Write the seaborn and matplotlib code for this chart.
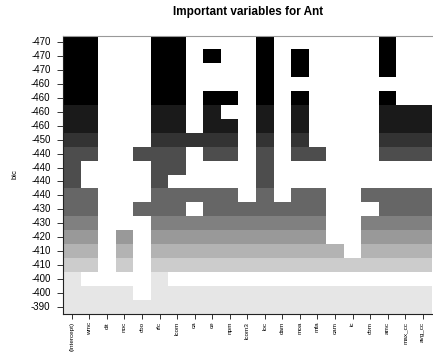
import numpy as np
import pandas as pd
import matplotlib
matplotlib.use("Agg")
import matplotlib.pyplot as plt
import seaborn as sns
from matplotlib.colors import ListedColormap

plt.rcParams['font.family'] = ['Liberation Sans', 'DejaVu Sans']

variables = ["(Intercept)", "wmc", "dit", "noc", "cbo", "rfc", "lcom", "ca", "ce", "npm",
             "lcom3", "loc", "dam", "moa", "mfa", "cam", "ic", "cbm", "amc", "max_cc", "avg_cc"]

# bic of the best model of each size, ordered as drawn (top row = best)
bic = [-472, -469, -467, -464.8, -464.5, -462, -459, -451, -444, -443, -441,
       -438, -434, -428, -420, -412, -406, -398, -396, -392]

# variables in each of those models (intercept is always in)
models = [
    ["wmc", "rfc", "lcom", "loc", "amc"],
    ["wmc", "rfc", "lcom", "ce", "loc", "moa", "amc"],
    ["wmc", "rfc", "lcom", "loc", "moa", "amc"],
    ["wmc", "rfc", "lcom", "loc"],
    ["wmc", "rfc", "lcom", "ce", "npm", "loc", "moa", "amc"],
    ["wmc", "rfc", "lcom", "ce", "loc", "moa", "amc", "max_cc", "avg_cc"],
    ["wmc", "rfc", "lcom", "ce", "npm", "loc", "moa", "amc", "max_cc", "avg_cc"],
    ["wmc", "rfc", "lcom", "ca", "ce", "npm", "loc", "moa", "amc", "max_cc", "avg_cc"],
    ["wmc", "cbo", "rfc", "lcom", "ce", "npm", "loc", "moa", "mfa", "amc", "max_cc", "avg_cc"],
    ["rfc", "lcom", "loc"],
    ["rfc", "loc"],
    ["wmc", "rfc", "lcom", "ca", "ce", "npm", "loc", "moa", "mfa", "cbm", "amc", "max_cc", "avg_cc"],
    ["wmc", "cbo", "rfc", "lcom", "ce", "npm", "lcom3", "loc", "dam", "moa", "mfa", "amc",
     "max_cc", "avg_cc"],
    ["wmc", "rfc", "lcom", "ca", "ce", "npm", "lcom3", "loc", "dam", "moa", "mfa", "cbm", "amc",
     "max_cc", "avg_cc"],
    ["wmc", "noc", "rfc", "lcom", "ca", "ce", "npm", "lcom3", "loc", "dam", "moa", "mfa", "cbm",
     "amc", "max_cc", "avg_cc"],
    ["wmc", "noc", "rfc", "lcom", "ca", "ce", "npm", "lcom3", "loc", "dam", "moa", "mfa", "cam",
     "cbm", "amc", "max_cc", "avg_cc"],
    ["wmc", "noc", "rfc", "lcom", "ca", "ce", "npm", "lcom3", "loc", "dam", "moa", "mfa", "cam",
     "ic", "cbm", "amc", "max_cc", "avg_cc"],
    ["rfc"],
    ["wmc", "dit", "noc", "rfc", "lcom", "ca", "ce", "npm", "lcom3", "loc", "dam", "moa", "mfa",
     "cam", "ic", "cbm", "amc", "max_cc", "avg_cc"],
    variables[1:],
]

# shade each row by its bic, 10 grey levels like leaps::plot.regsubsets
bic_arr = np.array(bic)
levels = np.floor((bic_arr - bic_arr.min()) / (bic_arr.max() - bic_arr.min()) * 10)
levels = np.clip(levels, 0, 9)

mat = np.full((len(bic), len(variables)), np.nan)
for i, m in enumerate(models):
    for j, v in enumerate(variables):
        if v == "(Intercept)" or v in m:
            mat[i, j] = levels[i]

ylabels = [f"{round(b, -1):.0f}" for b in bic]
df = pd.DataFrame(mat, index=ylabels, columns=variables)

greys = ListedColormap([(g, g, g) for g in np.linspace(0, 0.9, 10)])

fig = plt.figure(figsize=(4.33, 3.53), dpi=100)
ax = fig.add_axes([63 / 433, 1 - 313.5 / 353, (431.5 - 63) / 433, (313.5 - 35.5) / 353])
sns.heatmap(df, cmap=greys, vmin=-0.5, vmax=9.5, cbar=False, ax=ax,
            xticklabels=True, yticklabels=True)

ax.set_xticklabels(variables, rotation=90, fontsize=4.6)
ax.set_yticklabels(ylabels, rotation=0, fontsize=7)
ax.tick_params(axis='y', length=4, width=0.7, pad=5, color='#333333')
ax.tick_params(axis='x', length=3.5, width=0.7, pad=2.5, color='#333333')
ax.set_xlabel("")
ax.set_ylabel("bic", fontsize=5.5, labelpad=9)

for side in ["left", "bottom"]:
    ax.spines[side].set_visible(True)
    ax.spines[side].set_color('#222222')
    ax.spines[side].set_linewidth(0.8)
ax.spines["top"].set_visible(True)
ax.spines["top"].set_color('#999999')
ax.spines["top"].set_linewidth(0.8)

fig.text(248 / 433, 1 - 12.5 / 353, "Important variables for Ant", ha='center', va='center',
         fontsize=8.5, fontweight='bold')

fig.savefig("out.png", dpi=100)
